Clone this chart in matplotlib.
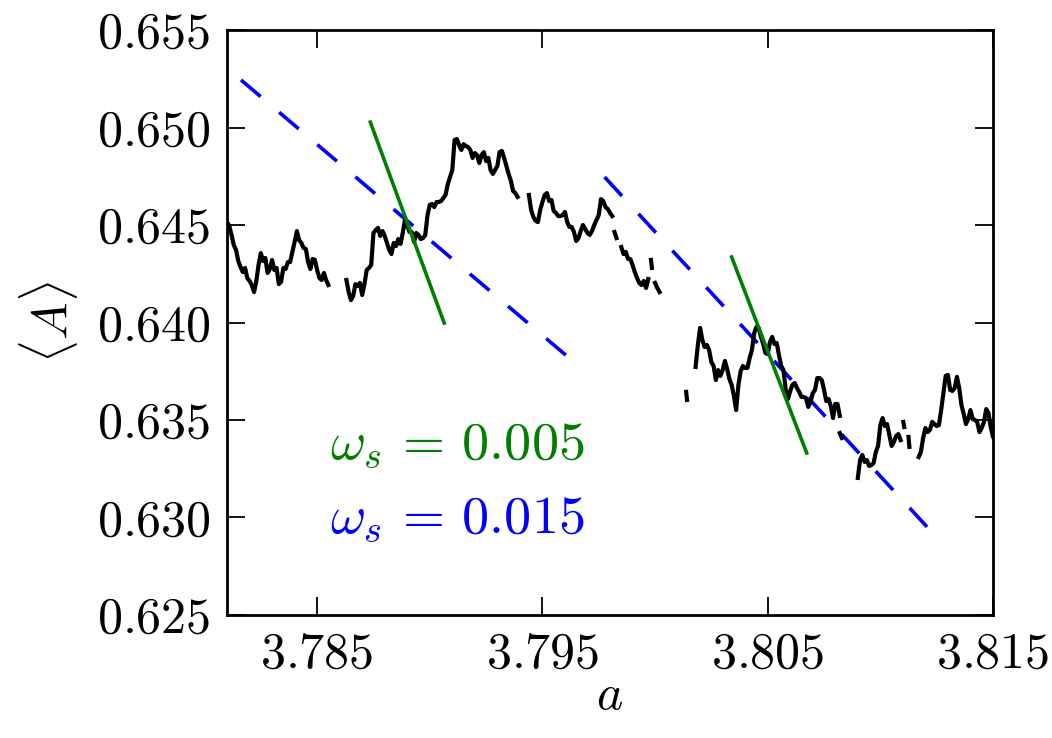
import numpy as np
import matplotlib
matplotlib.use("Agg")
import matplotlib.pyplot as plt

plt.rcParams['mathtext.fontset'] = 'cm'
plt.rcParams['font.family'] = 'serif'
plt.rcParams['font.serif'] = ['cmr10', 'DejaVu Serif']
plt.rcParams['axes.unicode_minus'] = False
plt.rcParams['lines.scale_dashes'] = False

nan = np.nan

# Sampling of the control parameter a
a_start = 3.781
a_step = 0.0001

# <A> values along a (nan = no data)
A_values = [
    0.64515, 0.64495, 0.64449, 0.64397, 0.64372, 0.64315, 0.64285, 0.64259, 0.64280, 0.64228,
    0.64213, 0.64192, 0.64156, 0.64213, 0.64295, 0.64356, 0.64315, 0.64331, 0.64254, 0.64274,
    0.64321, 0.64269, 0.64280, 0.64197, 0.64208, 0.64280, 0.64274, 0.64310, 0.64310, 0.64362,
    0.64413, 0.64469, 0.64423, 0.64408, 0.64382, 0.64377, 0.64310, 0.64274, 0.64326, 0.64321,
    0.64269, 0.64228, 0.64218, 0.64254, 0.64218, 0.64192, nan, nan, nan, nan,
    nan, nan, nan, 0.64218, 0.64156, 0.64115, 0.64136, 0.64197, 0.64187, 0.64203,
    0.64141, 0.64197, 0.64269, 0.64280, 0.64295, 0.64459, 0.64474, 0.64485, 0.64444, 0.64469,
    0.64444, 0.64408, 0.64372, 0.64351, 0.64408, 0.64392, 0.64428, 0.64403, 0.64459, 0.64526,
    0.64500, 0.64464, 0.64464, 0.64413, 0.64459, 0.64449, 0.64428, 0.64433, 0.64449, 0.64551,
    0.64603, 0.64608, 0.64592, 0.64618, 0.64618, 0.64623, 0.64638, 0.64654, 0.64710, 0.64746,
    0.64782, 0.64936, 0.64941, 0.64910, 0.64885, 0.64915, 0.64905, 0.64900, 0.64885, 0.64844,
    0.64869, 0.64859, 0.64818, 0.64859, 0.64874, 0.64828, 0.64844, 0.64782, 0.64762, 0.64782,
    0.64803, 0.64874, 0.64880, 0.64844, 0.64803, 0.64762, 0.64726, 0.64674, 0.64664, 0.64644,
    nan, nan, nan, nan, 0.64654, 0.64577, 0.64541, 0.64521, 0.64515, 0.64577,
    0.64618, 0.64654, 0.64664, 0.64623, 0.64628, 0.64572, 0.64562, 0.64546, 0.64546, 0.64551,
    0.64567, 0.64515, 0.64490, 0.64490, 0.64464, 0.64418, 0.64433, 0.64469, 0.64500, 0.64479,
    0.64459, 0.64449, 0.64469, 0.64500, 0.64526, 0.64551, 0.64633, 0.64623, 0.64592, 0.64582,
    0.64562, 0.64546, nan, nan, nan, 0.64387, 0.64351, 0.64362, 0.64326, 0.64326,
    0.64295, 0.64259, 0.64228, 0.64203, 0.64192, 0.64213, 0.64177, 0.64223, nan, nan,
    0.64203, 0.64177, 0.64156, nan, nan, nan, nan, nan, nan, nan,
    nan, nan, nan, nan, nan, nan, nan, nan, 0.63772, 0.63885,
    0.63972, 0.63910, 0.63874, 0.63885, 0.63859, 0.63797, 0.63777, 0.63705, 0.63756, 0.63726,
    0.63756, 0.63803, 0.63762, 0.63710, 0.63680, 0.63623, 0.63551, 0.63680, 0.63751, 0.63777,
    0.63767, 0.63767, 0.63818, 0.63859, 0.63946, 0.63977, 0.63972, 0.63926, 0.63890, 0.63844,
    0.63838, 0.63900, 0.63926, 0.63890, 0.63895, 0.63833, 0.63777, 0.63756, 0.63654, 0.63608,
    0.63649, 0.63680, 0.63690, 0.63664, 0.63644, 0.63618, 0.63618, 0.63613, 0.63567, 0.63592,
    0.63638, 0.63654, 0.63715, 0.63715, 0.63705, 0.63654, 0.63597, 0.63608, 0.63572, 0.63510,
    0.63582, 0.63582, 0.63521, nan, nan, nan, nan, nan, nan, nan,
    0.63203, 0.63295, 0.63321, 0.63285, 0.63295, 0.63264, 0.63269, 0.63279, 0.63336, 0.63367,
    0.63474, 0.63510, 0.63469, 0.63479, 0.63423, 0.63367, 0.63387, 0.63418, 0.63428, 0.63397,
    nan, nan, nan, nan, nan, nan, nan, 0.63310, 0.63336, 0.63408,
    0.63459, 0.63438, 0.63449, 0.63490, 0.63479, 0.63469, 0.63474, 0.63551, 0.63638, 0.63726,
    0.63731, 0.63654, 0.63649, 0.63664, 0.63721, 0.63664, 0.63577, 0.63531, 0.63479, 0.63505,
    0.63551, 0.63505, 0.63500, 0.63490, 0.63438, 0.63459, 0.63490, 0.63556, 0.63536, 0.63464,
    0.63413, 0.63397,
]

# Short isolated fragments of the <A> curve: (a0, a1, A0, A1)
fragments = [
    (3.79820, 3.79829, 0.64464, 0.64433),
    (3.79982, 3.79986, 0.64321, 0.64280),
    (3.80138, 3.80142, 0.63644, 0.63603),
    (3.80820, 3.80829, 0.63433, 0.63408),
    (3.81102, 3.81106, 0.63490, 0.63464),
    (3.81125, 3.81129, 0.63413, 0.63362),
]

# Slope lines: omega_s = 0.005 (green solid), omega_s = 0.015 (blue dashed)
green_lines = [
    ([3.78736, 3.79064], [0.65028, 0.63997]),
    ([3.80340, 3.80673], [0.64336, 0.63331]),
]
blue_lines = [
    ([3.78162, 3.79629], [0.65244, 0.63808]),
    ([3.79776, 3.81220], [0.64746, 0.62936]),
]

xticks = [3.785, 3.795, 3.805, 3.815]
yticks = [0.625, 0.630, 0.635, 0.640, 0.645, 0.650, 0.655]

a_values = a_start + a_step * np.arange(len(A_values))

fig = plt.figure(figsize=(10.52, 7.38), dpi=100)
ax = fig.add_axes([0.2158, 0.1667, 0.7281, 0.7926])

ax.plot(a_values, A_values, color='k', lw=3.0, zorder=3)
for a0, a1, y0, y1 in fragments:
    ax.plot([a0, a1], [y0, y1], color='k', lw=3.0, zorder=3)
for xs, ys in green_lines:
    ax.plot(xs, ys, color='#008000', lw=2.6, zorder=4)
for xs, ys in blue_lines:
    ax.plot(xs, ys, color='#0000ff', lw=2.6, dashes=(18.5, 17.5), zorder=2)

ax.set_xlim(3.781, 3.815)
ax.set_ylim(0.625, 0.655)
ax.set_xticks(xticks)
ax.set_xticklabels([r'$%.3f$' % t for t in xticks])
ax.set_yticks(yticks)
ax.set_yticklabels([r'$%.3f$' % t for t in yticks])
ax.tick_params(which='both', direction='in', top=True, right=True,
               length=13, width=1.3, labelsize=36, pad=12)
for s in ax.spines.values():
    s.set_linewidth(2.0)

ax.set_xlabel(r'$a$', fontsize=36, labelpad=-3)
ax.set_ylabel(r'$\langle A\rangle$', fontsize=36, labelpad=12)

ax.text(0.134, 0.29, r'$\omega_s\,=\,0.005$', color='#008000', fontsize=39,
        transform=ax.transAxes, va='center', ha='left')
ax.text(0.134, 0.162, r'$\omega_s\,=\,0.015$', color='#0000ff', fontsize=39,
        transform=ax.transAxes, va='center', ha='left')

fig.savefig('out.png', dpi=100)
